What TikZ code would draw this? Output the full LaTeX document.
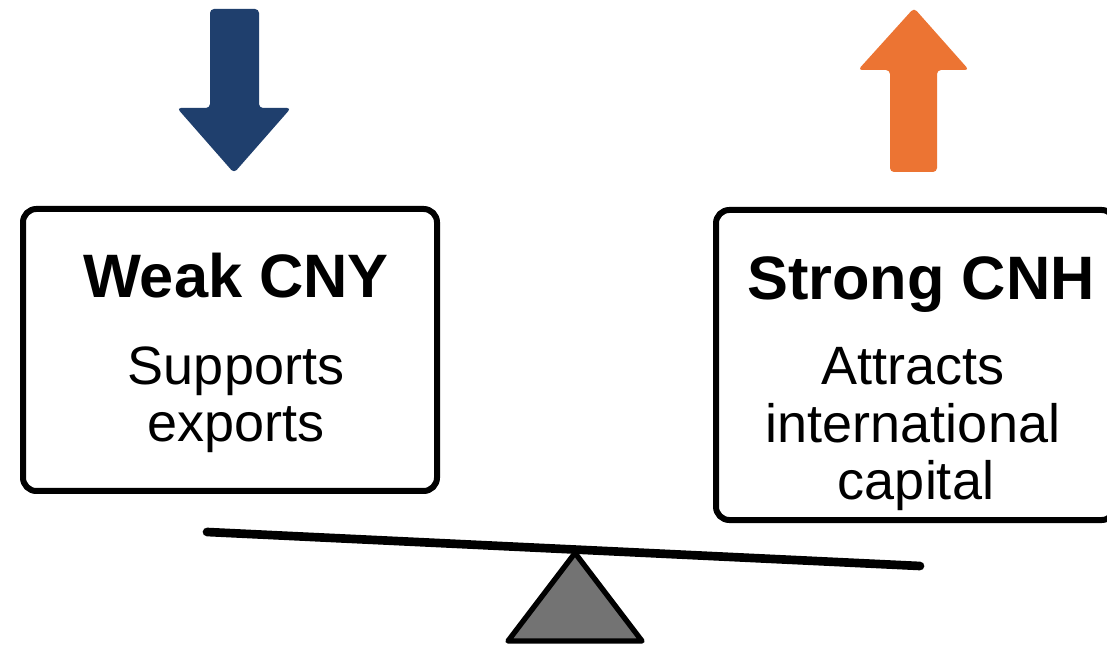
\documentclass[tikz,border=0pt]{standalone}
\usepackage{fontspec}
\setmainfont{Liberation Sans}
\definecolor{navy}{HTML}{1F3F6D}
\definecolor{orng}{HTML}{EC7433}
\definecolor{fulcrum}{HTML}{737373}
\begin{document}
\begin{tikzpicture}[x=0.75pt,y=-0.75pt,
  box/.style={draw, line width=4.5pt, rounded corners=10pt, inner sep=0pt},
  titletext/.style={font=\fontsize{46}{50}\selectfont\bfseries, anchor=base, inner sep=0pt},
  bodytext/.style={font=\fontsize{40.5}{43}\selectfont, anchor=base, inner sep=0pt},
  bigarrow/.style={rounded corners=3pt}]
\path[use as bounding box] (0,0) rectangle (1107,648);
\clip (0,0) rectangle (1107,648);
\fill[white] (0,0) rectangle (1107,648);
% arrows
\fill[navy, bigarrow] (210,9) -- (259,9) -- (259,108) -- (291,108) -- (234,173) -- (177,108) -- (210,108) -- cycle;
\fill[orng, bigarrow] (914,8) -- (969,70) -- (937,70) -- (937,172) -- (890,172) -- (890,70) -- (858,70) -- cycle;
% boxes
\node[box, minimum width=310.5pt, minimum height=211.5pt] (weakbox) at (230,350) {};
\node[box, minimum width=299.25pt, minimum height=232.5pt] (strongbox) at (915.5,365) {};
% texts
\node[titletext] (weaktitle) at (236,298) {Weak CNY};
\node[bodytext] (weak1) at (236,385) {Supports};
\node[bodytext] (weak2) at (236,442) {exports};
\node[titletext] (strongtitle) at (921,300) {Strong CNH};
\node[bodytext] (strong1) at (913,385) {Attracts};
\node[bodytext] (strong2) at (913,443) {international};
\node[bodytext] (strong3) at (916,499) {capital};
% seesaw
\filldraw[fill=fulcrum, draw=black, line width=4pt, line join=round] (575,553) -- (642,641) -- (508,641) -- cycle;
\draw[line width=6.5pt, line cap=round] (207,532) -- (920,566);
\end{tikzpicture}
\end{document}
